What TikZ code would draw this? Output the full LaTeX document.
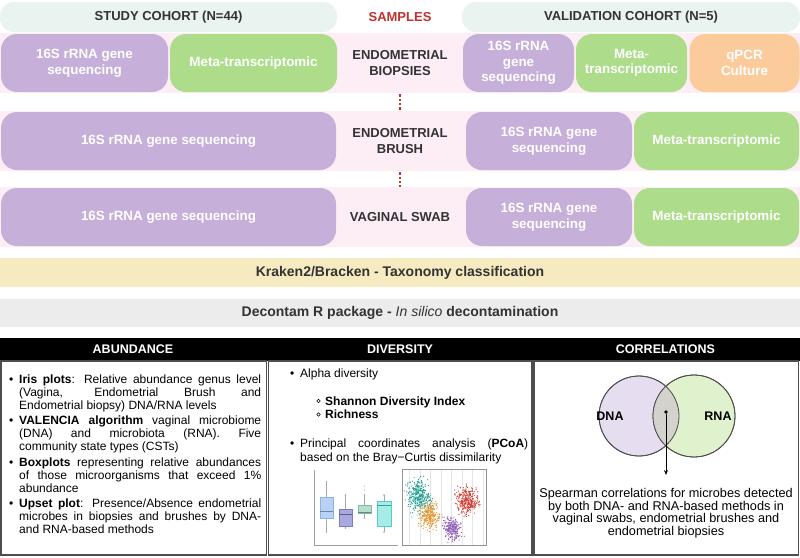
\documentclass[tikz,border=0pt]{standalone}
\usepackage{fontspec}
\setmainfont{Liberation Sans}
\usetikzlibrary{arrows.meta}
\definecolor{mint}{HTML}{E9F4F0}
\definecolor{pinkbg}{HTML}{FCEEF4}
\definecolor{purp}{HTML}{C6AFD8}
\definecolor{grn}{HTML}{ADDC8B}
\definecolor{org}{HTML}{FCCB9C}
\definecolor{yel}{HTML}{F6EBC0}
\definecolor{gry}{HTML}{ECECEC}
\definecolor{sampred}{HTML}{C0302E}
\definecolor{txt}{HTML}{333333}
\definecolor{frame}{HTML}{4D4D4D}
\definecolor{dnafill}{HTML}{E6DEF0}
\definecolor{rnafill}{HTML}{DFF1CD}
\definecolor{intfill}{HTML}{D3D3CC}
\definecolor{bfa}{HTML}{B9D1F3}\definecolor{bla}{HTML}{8EB2E6}
\definecolor{bfb}{HTML}{A9A9DE}\definecolor{blb}{HTML}{7C7CC6}
\definecolor{bfc}{HTML}{B8DECF}\definecolor{blc}{HTML}{7FBCA2}
\definecolor{bfd}{HTML}{A6EDE7}\definecolor{bld}{HTML}{52CFC3}
\definecolor{cteal}{HTML}{1A9C8C}
\definecolor{corange}{HTML}{E8962E}
\definecolor{cred}{HTML}{D03A2E}
\definecolor{cpurple}{HTML}{8E5BB5}
\newcommand\jl[1]{\makebox[242pt][s]{#1}}
\newcommand\bl{\makebox[10pt][l]{\textbullet}}
\newcommand\ind{\hspace*{10pt}}
\newcommand\bxp[9]{%
  \draw[line width=0.5pt, draw=gray!70] ({(#1+#2)/2},#3) -- ({(#1+#2)/2},#4);
  \draw[line width=0.5pt, draw=gray!70] ({(#1+#2)/2},#6) -- ({(#1+#2)/2},#7);
  \fill[gray!70] ({(#1+#2)/2},#3) circle[radius=0.8];
  \fill[gray!70] ({(#1+#2)/2},#7) circle[radius=0.8];
  \filldraw[fill=#8, draw=#9, line width=0.5pt] (#1,#4) rectangle (#2,#6);
  \draw[#9!75!black, line width=1pt] (#1,#5) -- (#2,#5);
}
\begin{document}
\begin{tikzpicture}[x=1pt,y=-1pt,
  pill/.style={fill=mint, rounded corners=14pt, minimum height=30, inner sep=0,
    text=txt, font=\bfseries\fontsize{13}{15}\selectfont},
  sbox/.style={rounded corners=16pt, minimum height=58, inner sep=0, text=white,
    align=center, font=\bfseries\fontsize{13.4}{15.5}\selectfont},
  purpbox/.style={sbox, fill=purp},
  grnbox/.style={sbox, fill=grn},
  orgbox/.style={sbox, fill=org},
  samp/.style={text=txt, align=center, minimum height=58, inner sep=0,
    font=\bfseries\fontsize{13}{15.5}\selectfont},
  band/.style={minimum width=800, minimum height=28.5, inner sep=0, text=txt,
    font=\bfseries\fontsize{14}{16}\selectfont},
  reddots/.style={draw=sampred, line width=2.3pt, dash pattern=on 2.3pt off 2.1pt},
  colhead/.style={text=white, inner sep=0, font=\bfseries\fontsize{12.5}{14}\selectfont},
  colbox/.style={draw=frame, line width=1.6pt, inner sep=0, minimum height=194},
  body/.style={font=\fontsize{12}{13}\selectfont, text=black, inner sep=0},
  venn/.style={circle, draw=frame, line width=0.8pt, inner sep=0},
]
\useasboundingbox (0,0) rectangle (800,557);
\fill[white] (0,0) rectangle (800,557);

% header
\node[pill, minimum width=337] (study) at (168.5,17) {STUDY COHORT (N=44)};
\node[text=sampred, inner sep=0, font=\bfseries\fontsize{13}{15}\selectfont] (samples) at (400,17) {SAMPLES};
\node[pill, minimum width=338] (valid) at (631,17) {VALIDATION COHORT (N=5)};

% pink bands
\fill[pinkbg] (0,33) rectangle (800,93);
\fill[pinkbg] (0,111) rectangle (800,171);
\fill[pinkbg] (0,187) rectangle (800,247);

% row 1
\node[purpbox, minimum width=167] (s1a) at (84.5,63) {16S rRNA gene\\sequencing};
\node[grnbox, minimum width=167] (s1b) at (253.5,63) {Meta-transcriptomic};
\node[samp] (bio) at (400,63) {ENDOMETRIAL\\BIOPSIES};
\node[purpbox, minimum width=111] (v1a) at (518.5,63) {16S rRNA\\gene\\sequencing};
\node[grnbox, minimum width=111] (v1b) at (631.5,63) {Meta-\\transcriptomic};
\node[orgbox, minimum width=110] (v1c) at (744.5,63) {qPCR\\Culture};

% row 2
\node[purpbox, minimum width=335] (s2) at (168.5,141) {16S rRNA gene sequencing};
\node[samp] (brush) at (400,141) {ENDOMETRIAL\\BRUSH};
\node[purpbox, minimum width=166] (v2a) at (549,141) {16S rRNA gene\\sequencing};
\node[grnbox, minimum width=165] (v2b) at (716.5,141) {Meta-transcriptomic};

% row 3
\node[purpbox, minimum width=335] (s3) at (168.5,217) {16S rRNA gene sequencing};
\node[samp] (swab) at (400,217) {VAGINAL SWAB};
\node[purpbox, minimum width=166] (v3a) at (549,217) {16S rRNA gene\\sequencing};
\node[grnbox, minimum width=165] (v3b) at (716.5,217) {Meta-transcriptomic};

% dotted links
\draw[reddots, shorten <=2pt, shorten >=1pt] (bio.south) -- (brush.north);
\draw[reddots, shorten <=2pt, shorten >=1pt] (brush.south) -- (swab.north);

% bands
\node[band, fill=yel] (kraken) at (400,272.5) {Kraken2/Bracken - Taxonomy classification};
\node[band, fill=gry] (decont) at (400,313) {Decontam R package - {\mdseries\itshape In silico} decontamination};

% bottom panels
\node[fill=black, minimum width=800, minimum height=23, inner sep=0] (hdr) at (400,349.5) {};
\node[colhead] (habund) at (133,349.5) {ABUNDANCE};
\node[colhead] (hdiv) at (400,349.5) {DIVERSITY};
\node[colhead] (hcorr) at (665.5,349.5) {CORRELATIONS};
\node[colbox, minimum width=265.5] (abund) at (133.75,458) {};
\node[colbox, minimum width=263.5] (divb) at (400.25,458) {};
\node[colbox, minimum width=264.5] (corr) at (666.25,458) {};

% abundance text
\node[body, anchor=north west, align=left] (abtext) at (9,374.5) {%
\bl\jl{\textbf{Iris plots}: Relative abundance genus level}\\
\ind\jl{(Vagina, Endometrial Brush and}\\
\ind Endometrial biopsy) DNA/RNA levels\\[2.5pt]
\bl\jl{\textbf{VALENCIA algorithm} vaginal microbiome}\\
\ind\jl{(DNA) and microbiota (RNA). Five}\\
\ind community state types (CSTs)\\[2.5pt]
\bl\jl{\textbf{Boxplots} representing relative abundances}\\
\ind\jl{of those microorganisms that exceed 1\%}\\
\ind abundance\\[2.5pt]
\bl\jl{\textbf{Upset plot}: Presence/Absence endometrial}\\
\ind\jl{microbes in biopsies and brushes by DNA-}\\
\ind and RNA-based methods};

% diversity text
\node[body, anchor=base west] (alpha) at (290,377) {\bl Alpha diversity};
\node[body, anchor=base west] (shannon) at (325,405) {\textbf{Shannon Diversity Index}};
\node[body, anchor=base west] (rich) at (325,418.5) {\textbf{Richness}};
\draw[line width=0.6pt] (318.5,401) circle[radius=1.8];
\draw[line width=0.6pt] (318.5,414.5) circle[radius=1.8];
\node[body, anchor=base west] (pcoa) at (290,447) {\bl\makebox[228pt][s]{Principal coordinates analysis (\textbf{PCoA})}};
\node[body, anchor=base west] (bray) at (300,461) {based on the Bray−Curtis dissimilarity};

% boxplot
\draw[gray!75, line width=0.8pt] (314,470) -- (314,545) -- (398,545);
\bxp{320}{333}{482}{497}{511}{518}{532}{bfa}{bla}
\bxp{339}{352}{495}{509}{514}{526}{528}{bfb}{blb}
\bxp{358}{371}{495}{505}{512}{513}{518}{bfc}{blc}
\bxp{377}{391}{495}{501}{505}{526}{532}{bfd}{bld}
\fill[gray!60] (364.5,486) circle[radius=0.7];
\fill[gray!60] (364.5,490) circle[radius=0.7];

% scatter plot
\draw[gray!20, line width=0.4pt, step=10.5] (402,469) grid (486,545);
\begin{scope}
\clip (402,469) rectangle (486,545);
\pgfmathsetseed{11}
\foreach \cx/\cy/\sx/\sy/\rot/\col/\n in {419/497/5.5/8/-15/cteal/340, 429/516/4.8/6.2/-10/corange/280, 467/500/5.5/6.5/0/cred/320, 452/529/4/6/-20/cpurple/240}{
  \foreach \i in {1,...,\n}{
    \pgfmathsetmacro\u{(rand+rand+rand)}
    \pgfmathsetmacro\v{(rand+rand+rand)}
    \pgfmathsetmacro\px{\cx+\u*\sx*cos(\rot)-\v*\sy*sin(\rot)}
    \pgfmathsetmacro\py{\cy+\u*\sx*sin(\rot)+\v*\sy*cos(\rot)}
    \fill[\col] (\px,\py) circle[radius=0.62];
  }
}
\end{scope}
\draw[gray!85, line width=0.7pt] (402,469) rectangle (486,545);

% venn
\node[venn, fill=dnafill, minimum size=80] (dna) at (639,416) {};
\node[venn, fill=rnafill, minimum size=82] (rna) at (694,416) {};
\begin{scope}
\clip (639,416) circle[radius=40];
\fill[intfill] (694,416) circle[radius=41];
\end{scope}
\draw[draw=frame, line width=0.8pt] (639,416) circle[radius=40];
\draw[draw=frame, line width=0.8pt] (694,416) circle[radius=41];
\node[inner sep=0, font=\bfseries\fontsize{12.5}{14}\selectfont] (dnal) at (610,416) {DNA};
\node[inner sep=0, font=\bfseries\fontsize{12.5}{14}\selectfont] (rnal) at (718,416) {RNA};
\node[circle, fill=black, inner sep=0, minimum size=3.6] (dot) at (666,412) {};
\coordinate (arrend) at (666,475);
\draw[-{Stealth[length=5pt,width=4pt]}, line width=0.8pt] (dot) -- (arrend);
\node[body, font=\fontsize{12.7}{12.7}\selectfont, align=center, anchor=north] (corrtext) at (666,488) {Spearman correlations for microbes detected\\by both DNA- and RNA-based methods in\\vaginal swabs, endometrial brushes and\\endometrial biopsies};
\end{tikzpicture}
\end{document}
